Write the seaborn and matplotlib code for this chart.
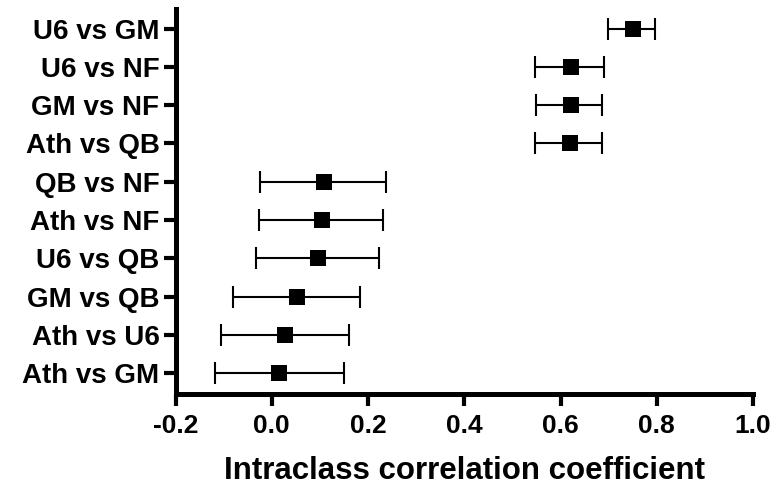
import matplotlib
matplotlib.use('Agg')
import matplotlib.pyplot as plt
import seaborn as sns
import pandas as pd

# ── Data (top row first) ──────────────────────────────────────────────────────
PAIRS  = ['U6 vs GM', 'U6 vs NF', 'GM vs NF', 'Ath vs QB', 'QB vs NF',
          'Ath vs NF', 'U6 vs QB', 'GM vs QB', 'Ath vs U6', 'Ath vs GM']
ICC    = [0.750, 0.622, 0.622, 0.620, 0.108, 0.104, 0.095, 0.052, 0.028, 0.015]
CI_LOW = [0.698, 0.546, 0.550, 0.546, -0.024, -0.026, -0.033, -0.080, -0.105, -0.118]
CI_HIGH = [0.797, 0.691, 0.686, 0.686, 0.237, 0.231, 0.222, 0.183, 0.160, 0.149]
X_TICKS = [-0.2, 0.0, 0.2, 0.4, 0.6, 0.8, 1.0]

df = pd.DataFrame({'pair': PAIRS, 'icc': ICC, 'lo': CI_LOW, 'hi': CI_HIGH})

sns.set_style('ticks', {'axes.edgecolor': 'black', 'text.color': 'black',
                        'axes.labelcolor': 'black', 'xtick.color': 'black',
                        'ytick.color': 'black'})
plt.rcParams['font.family'] = ['Liberation Sans', 'DejaVu Sans']
plt.rcParams['font.weight'] = 'bold'

fig = plt.figure(figsize=(7.75, 4.88), dpi=100)
ax = fig.add_axes([0.2265, 0.1926, 0.7452, 0.789])

# square markers + CI whiskers
sns.scatterplot(data=df, x='icc', y='pair', marker='s', s=120, color='black',
                edgecolor='black', linewidth=0, zorder=3, ax=ax, legend=False)
ax.errorbar(df['icc'], df['pair'],
            xerr=[df['icc'] - df['lo'], df['hi'] - df['icc']],
            fmt='none', ecolor='black', elinewidth=1.5, capsize=8,
            capthick=1.5, zorder=2)

ax.set_xlim(-0.2, 1.0)
ax.set_ylim(9.548, -0.515)
ax.set_xticks(X_TICKS)
ax.set_xticklabels([f'{t:.1f}' for t in X_TICKS])
ax.set_ylabel('')
ax.set_xlabel('Intraclass correlation coefficient', fontsize=22.5,
              fontweight='bold', color='black')
ax.xaxis.set_label_coords(0.5, -0.16)
ax.xaxis.label.set_va('top')

sns.despine(ax=ax)
for side in ('left', 'bottom'):
    ax.spines[side].set_linewidth(3.6)
    ax.spines[side].set_color('black')
    ax.spines[side].set_capstyle('projecting')
ax.tick_params(axis='both', length=8.6, width=3, color='black',
               labelcolor='black')
ax.tick_params(axis='x', labelsize=19, pad=6)
ax.tick_params(axis='y', labelsize=20, pad=3)
for lab in ax.get_xticklabels() + ax.get_yticklabels():
    lab.set_fontweight('bold')

plt.savefig('out.png', dpi=100)
plt.close()
